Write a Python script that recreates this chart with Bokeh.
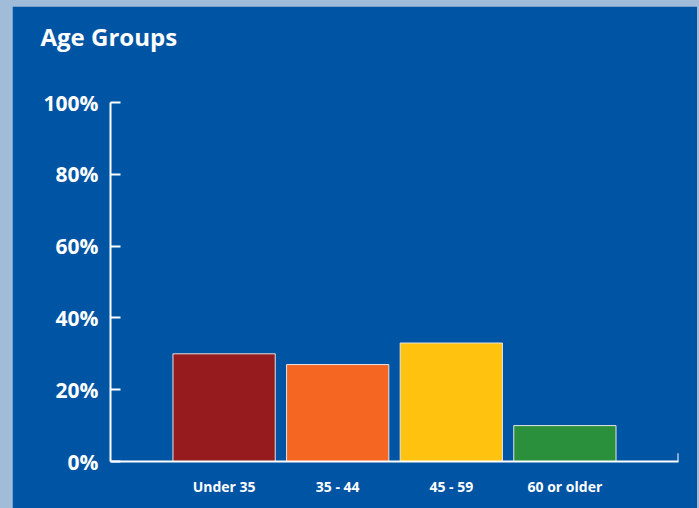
from bokeh.plotting import figure
from bokeh.models import Range1d, FixedTicker, Title, ColumnDataSource
from bokeh.layouts import column
from bokeh.embed import file_html
from bokeh.resources import INLINE

categories = ["Under 35", "35 - 44", "45 - 59", "60 or older"]
shares = [30, 27, 33, 10]
bar_colors = ["#951B1E", "#F46622", "#FFC20E", "#2A903B"]
y_ticks = [0, 20, 40, 60, 80, 100]
y_tick_labels = ["0%", "20%", "40%", "60%", "80%", "100%"]

positions = list(range(1, len(categories) + 1))
source = ColumnDataSource(dict(x=positions, top=shares, color=bar_colors, cat=categories))

DARK = "#0054A4"
LIGHT = "#A0BCD8"
FONT = "Open Sans"

p = figure(width=685, height=502, output_backend="svg", toolbar_location=None,
           x_range=Range1d(0, len(categories) + 1), y_range=Range1d(0, 100),
           min_border_left=98, min_border_right=19, min_border_top=96, min_border_bottom=47)
p.background_fill_color = DARK
p.border_fill_color = DARK
p.outline_line_color = DARK
p.outline_line_width = 2
p.grid.visible = False

# blank spacer between the title and the plot area
spacer = Title(text=" ", standoff=10, text_font=FONT, text_font_size="24px",
               text_color=DARK)
p.add_layout(spacer, "above")

title = Title(text="Age Groups", align="left", offset=-70, standoff=10,
              text_color="white", text_font=FONT, text_font_style="bold",
              text_font_size="24px")
p.add_layout(title, "above")

p.vbar(x="x", top="top", width=0.9, bottom=0, source=source,
       fill_color="color", line_color="#E6E6E6", line_width=1)

# small end tick at right of the x axis
p.segment(x0=[len(categories) + 1], y0=[0], x1=[len(categories) + 1], y1=[2.3],
          line_color="white", line_width=2)

xa = p.xaxis[0]
xa.ticker = FixedTicker(ticks=positions)
xa.major_label_overrides = {i: c for i, c in zip(positions, categories)}
xa.axis_line_color = "white"
xa.axis_line_width = 2
xa.major_tick_line_color = None
xa.minor_tick_line_color = None
xa.major_label_text_color = "white"
xa.major_label_text_font = FONT
xa.major_label_text_font_style = "bold"
xa.major_label_text_font_size = "14px"
xa.major_label_standoff = 9

ya = p.yaxis[0]
ya.ticker = FixedTicker(ticks=y_ticks)
ya.major_label_overrides = {t: l for t, l in zip(y_ticks, y_tick_labels)}
ya.axis_line_color = "white"
ya.axis_line_width = 2
ya.major_tick_line_color = "white"
ya.major_tick_line_width = 2
ya.major_tick_in = 10
ya.major_tick_out = 0
ya.minor_tick_line_color = None
ya.major_label_text_color = "white"
ya.major_label_text_font = FONT
ya.major_label_text_font_style = "bold"
ya.major_label_text_font_size = "21px"
ya.major_label_standoff = 12

layout = column(p, styles={"background-color": LIGHT, "padding": "6px 2px 0px 12px"})

open("out.html", "w").write(file_html(layout, INLINE))
